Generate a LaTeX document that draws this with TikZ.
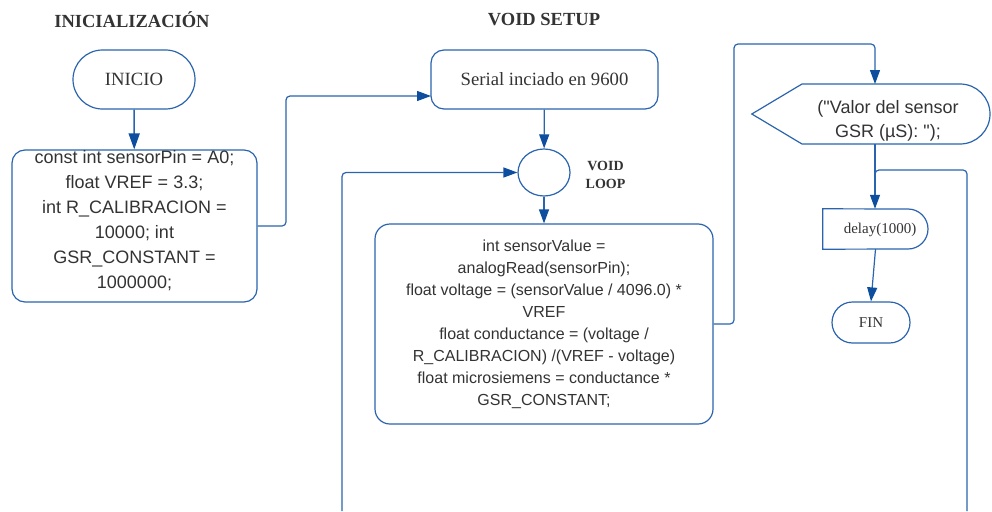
\documentclass[tikz,border=0pt]{standalone}
\usepackage{fontspec}
\setmainfont{Liberation Serif}
\newfontfamily\codefont{Liberation Sans}
\usetikzlibrary{arrows.meta,shapes.geometric,shapes.misc,calc}
\definecolor{flowblue}{HTML}{2A64AE}
\definecolor{tipblue}{HTML}{0D4F9E}
\definecolor{ink}{HTML}{333333}

\begin{document}
\begin{tikzpicture}[x=1pt,y=-1pt,
  every node/.style={text=ink, inner sep=0pt},
  line/.style={draw=flowblue, line width=1.2pt, rounded corners=4pt},
  flow/.style={line, -{Triangle[length=14pt,width=10pt,color=tipblue]}},
  bigflow/.style={line, line width=1.6pt, -{Triangle[length=16pt,width=11pt,color=tipblue]}},
  title/.style={font=\fontsize{18.5}{20}\selectfont\bfseries},
  outline/.style={draw=flowblue, line width=1.2pt},
  roundbox/.style={outline, rectangle, rounded corners=13pt},
  terminal/.style={outline, rounded rectangle, minimum height=#1},
  codetext/.style={align=center, font=\codefont\fontsize{18}{25}\selectfont},
  serifmid/.style={font=\fontsize{18.7}{22}\selectfont},
  serifsmall/.style={font=\fontsize{15}{18}\selectfont}
]
\useasboundingbox (0,0) rectangle (992,511);

% section headings
\node[title] (hInit) at (132,20) {INICIALIZACIÓN};
\node[title] (hSetup) at (544,20) {VOID SETUP};

% initialisation column
\node[terminal=59pt, minimum width=122pt, serifmid] (inicio) at (134,79.5) {INICIO};
\node[roundbox, minimum width=245pt, minimum height=152pt] (init) at (134.5,226) {};
\node[codetext] (initT) at (134.5,220.5) {const int sensorPin = A0;\\float VREF = 3.3;\\int R\_CALIBRACION =\\10000; int\\GSR\_CONSTANT =\\1000000;};

% setup and loop column
\node[roundbox, minimum width=227pt, minimum height=59pt, serifmid] (serial) at (544.5,79.5) {Serial inciado en 9600};
\node[outline, ellipse, minimum width=52pt, minimum height=47pt] (loopc) at (544,172.5) {};
\node[align=center, font=\fontsize{14}{18}\selectfont\bfseries] (loopT) at (605.5,175) {VOID\\LOOP};
\node[roundbox, rounded corners=15pt, minimum width=338pt, minimum height=200pt,
      align=center, font=\codefont\fontsize{16}{22}\selectfont] (reading) at (544,324)
  {int sensorValue =\\analogRead(sensorPin);\\float voltage = (sensorValue / 4096.0) *\\VREF\\float conductance = (voltage /\\R\_CALIBRACION) /(VREF - voltage)\\float microsiemens = conductance *\\GSR\_CONSTANT;};

% output column: display shape
\node[minimum width=238pt, minimum height=60pt] (disp) at (871,114) {};
\draw[outline] (disp.west) -- (802,84) -- (960,84)
  arc[start angle=-90, end angle=90, radius=30] -- (802,144) -- cycle;
\node[align=center, font=\codefont\fontsize{18}{24}\selectfont] (dispT) at (888,120.5) {("Valor del sensor\\GSR (µS): ");};

% delay shape
\node[minimum width=105pt, minimum height=40pt] (delay) at (875.5,229) {};
\draw[outline] (delay.north west) -- (908,209)
  arc[start angle=-90, end angle=90, radius=20] -- (delay.south west) -- cycle;
\node[serifsmall] (delayT) at (880,230) {delay(1000)};

\node[terminal=41pt, minimum width=78pt, serifsmall] (fin) at (871,322.5) {FIN};

% connector end points
\coordinate (serialIn) at (431,96);
\coordinate (dispIn) at (875,84);
\coordinate (dispOut) at (875,144);
\coordinate (loopL) at (342,511);
\coordinate (loopR) at (967,511);

% connectors
\draw[bigflow] (inicio) -- (init);
\draw[flow] (init.east) -| (286,96) -- (serialIn);
\draw[flow] (serial) -- (loopc);
\draw[flow] (loopc) -- (reading);
\draw[flow] (loopL) |- (loopc.west);
\draw[flow] (reading.east) -- (734,324) |- (875,44) -- (dispIn);
\draw[flow] (dispOut) -- (delay.north -| dispOut);
\draw[line] (loopR) -- (967,170) -- (875,170) -- (875,190);
\draw[flow] (delay.south) -- (fin.north);
\end{tikzpicture}
\end{document}
